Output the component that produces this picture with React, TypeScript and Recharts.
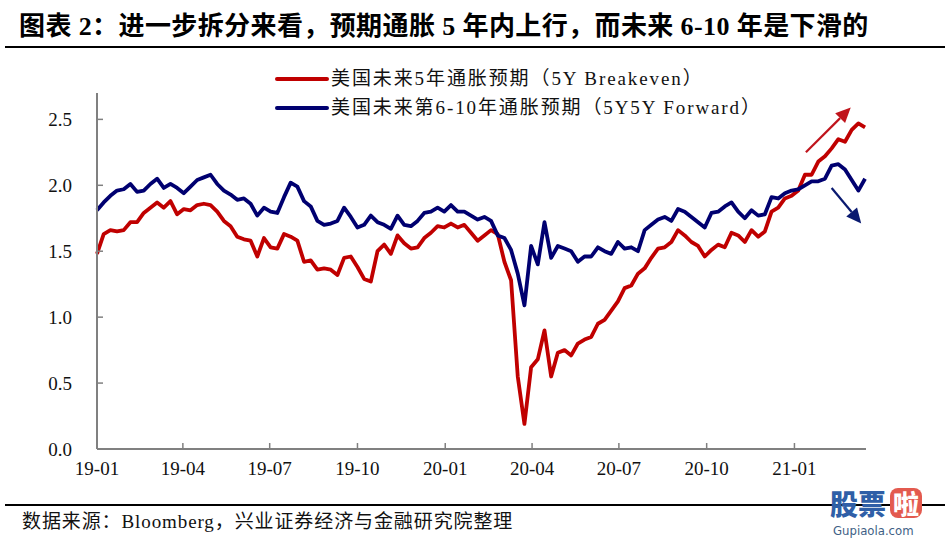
import React from "react";
import { LineChart, Line, XAxis, YAxis, Legend, ReferenceLine } from "recharts";

// weekly readings, first point = first week of Jan 2019
const breakeven5y = [
  1.48, 1.63, 1.66, 1.65, 1.66, 1.72, 1.72, 1.79, 1.83, 1.87,
  1.83, 1.88, 1.78, 1.82, 1.81, 1.85, 1.86, 1.85, 1.80, 1.73,
  1.69, 1.61, 1.59, 1.58, 1.46, 1.60, 1.53, 1.52, 1.63, 1.61,
  1.58, 1.42, 1.43, 1.36, 1.37, 1.36, 1.32, 1.45, 1.46, 1.38,
  1.29, 1.27, 1.50, 1.55, 1.48, 1.62, 1.56, 1.52, 1.53, 1.60,
  1.64, 1.69, 1.68, 1.71, 1.68, 1.70, 1.64, 1.58, 1.62, 1.66,
  1.63, 1.42, 1.28, 0.55, 0.19, 0.62, 0.68, 0.90, 0.55, 0.73,
  0.75, 0.71, 0.80, 0.83, 0.85, 0.95, 0.98, 1.05, 1.12, 1.22,
  1.24, 1.33, 1.37, 1.45, 1.52, 1.53, 1.57, 1.66, 1.62, 1.57,
  1.54, 1.46, 1.51, 1.55, 1.53, 1.64, 1.62, 1.57, 1.66, 1.61,
  1.65, 1.80, 1.83, 1.90, 1.92, 1.96, 2.08, 2.08, 2.18, 2.22,
  2.28, 2.35, 2.33, 2.42, 2.47, 2.44,
];

const forward5y5y = [
  1.81, 1.87, 1.92, 1.96, 1.97, 2.01, 1.95, 1.96, 2.01, 2.05,
  1.98, 2.01, 1.98, 1.94, 1.99, 2.04, 2.06, 2.08, 2.01, 1.96,
  1.93, 1.89, 1.90, 1.86, 1.77, 1.83, 1.80, 1.79, 1.91, 2.02,
  1.99, 1.88, 1.84, 1.73, 1.70, 1.71, 1.73, 1.83, 1.76, 1.68,
  1.70, 1.77, 1.72, 1.70, 1.67, 1.77, 1.70, 1.69, 1.73, 1.79,
  1.80, 1.83, 1.80, 1.85, 1.80, 1.80, 1.77, 1.74, 1.76, 1.73,
  1.62, 1.60, 1.51, 1.33, 1.09, 1.54, 1.40, 1.72, 1.45, 1.54,
  1.52, 1.50, 1.42, 1.46, 1.46, 1.53, 1.50, 1.48, 1.57, 1.52,
  1.53, 1.50, 1.66, 1.70, 1.74, 1.76, 1.73, 1.82, 1.80, 1.76,
  1.72, 1.68, 1.79, 1.80, 1.84, 1.87, 1.80, 1.75, 1.81, 1.77,
  1.78, 1.91, 1.90, 1.94, 1.96, 1.97, 2.00, 2.03, 2.03, 2.05,
  2.15, 2.16, 2.12, 2.04, 1.96, 2.05,
];

// days since 2019-01-01 for each quarter tick
const tickDays = [0, 90, 181, 273, 365, 456, 547, 639, 731];
const tickLabels = ["19-01", "19-04", "19-07", "19-10", "20-01", "20-04", "20-07", "20-10", "21-01"];
const yTicks = [0, 0.5, 1.0, 1.5, 2.0, 2.5];

const seriesNames = ["美国未来5年通胀预期（5Y Breakeven）", "美国未来第6-10年通胀预期（5Y5Y Forward）"];
const RED = "#c00000";
const BLUE = "#000070";

const data = breakeven5y.map((v, i) => ({
  day: i * 7,
  be: v,
  fw: forward5y5y[i],
}));

const FONT = "'Liberation Serif', 'Noto Sans CJK SC', serif";

const arrowShape = (color: string) => (p: any) => {
  const { x1, y1, x2, y2 } = p;
  if ([x1, y1, x2, y2].some((v) => typeof v !== "number" || isNaN(v))) return <g />;
  const a = Math.atan2(y2 - y1, x2 - x1);
  const L = 15;
  const W = 7;
  const bx = x2 - L * Math.cos(a);
  const by = y2 - L * Math.sin(a);
  const px = -Math.sin(a) * W;
  const py = Math.cos(a) * W;
  return (
    <g>
      <line x1={x1} y1={y1} x2={bx} y2={by} stroke={color} strokeWidth={2.2} />
      <polygon points={`${x2},${y2} ${bx + px},${by + py} ${bx - px},${by - py}`} fill={color} />
    </g>
  );
};

const LegendBox = () => (
  <div style={{ fontFamily: FONT, fontSize: 19, letterSpacing: 1.9, color: "#111", lineHeight: "29px" }}>
    {seriesNames.map((n, i) => (
      <div key={n} style={{ display: "flex", alignItems: "center", whiteSpace: "nowrap" }}>
        <span
          style={{
            display: "inline-block",
            width: 54,
            height: 4,
            borderRadius: 2,
            background: i === 0 ? RED : BLUE,
            marginRight: 2,
          }}
        />
        {n}
      </div>
    ))}
  </div>
);

export default function App() {
  return (
    <div style={{ position: "absolute", left: 0, top: 0, width: 950, height: 544, background: "#fff", overflow: "hidden" }}>
      <div
        style={{
          position: "absolute",
          left: 19,
          top: 10,
          fontFamily: FONT,
          fontWeight: "bold",
          fontSize: 26,
          letterSpacing: 0.4,
          lineHeight: "34px",
          color: "#000",
          whiteSpace: "nowrap",
        }}
      >
        图表 2：进一步拆分来看，预期通胀 5 年内上行，而未来 6-10 年是下滑的
      </div>
      <div style={{ position: "absolute", left: 5, top: 46, width: 940, height: 2, background: "#000" }} />

      <div style={{ position: "absolute", left: 0, top: 0 }}>
        <LineChart width={950} height={544} data={data} margin={{ top: 93, right: 84, bottom: 65, left: 37 }}>
          <XAxis
            dataKey="day"
            type="number"
            domain={[0, 806]}
            ticks={tickDays}
            tickFormatter={(d: number) => tickLabels[tickDays.indexOf(d)] ?? ""}
            axisLine={{ stroke: "#808080", strokeWidth: 2 }}
            tickLine={{ stroke: "#808080", strokeWidth: 1.5 }}
            tickSize={-6}
            tickMargin={19}
            height={30}
            tick={{ fill: "#111", fontSize: 19, fontFamily: FONT }}
            interval={0}
          />
          <YAxis
            type="number"
            domain={[0, 2.7]}
            ticks={yTicks}
            tickFormatter={(v: number) => v.toFixed(1)}
            axisLine={{ stroke: "#808080", strokeWidth: 2 }}
            tickLine={{ stroke: "#808080", strokeWidth: 1.5 }}
            tickSize={-6}
            tickMargin={31}
            width={60}
            tick={{ fill: "#111", fontSize: 19, fontFamily: FONT }}
            interval={0}
          />
          <Legend
            layout="vertical"
            align="center"
            verticalAlign="middle"
            content={<LegendBox />}
            wrapperStyle={{ left: 275, top: 64, width: 560 }}
          />
          <Line
            dataKey="be"
            name={seriesNames[0]}
            stroke={RED}
            strokeWidth={3.8}
            dot={false}
            strokeLinejoin="round"
            isAnimationActive={false}
          />
          <Line
            dataKey="fw"
            name={seriesNames[1]}
            stroke={BLUE}
            strokeWidth={3.8}
            dot={false}
            strokeLinejoin="round"
            isAnimationActive={false}
          />
          <ReferenceLine
            segment={[{ x: 743, y: 2.25 }, { x: 790, y: 2.59 }]}
            shape={arrowShape("#c0141c")}
            ifOverflow="visible"
          />
          <ReferenceLine
            segment={[{ x: 770, y: 1.98 }, { x: 801, y: 1.71 }]}
            shape={arrowShape("#0a1a70")}
            ifOverflow="visible"
          />
        </LineChart>
      </div>

      <div style={{ position: "absolute", left: 5, top: 504, width: 940, height: 1.5, background: "#000" }} />
      <div
        style={{
          position: "absolute",
          left: 22,
          top: 509,
          fontFamily: FONT,
          fontSize: 19,
          letterSpacing: 0.9,
          lineHeight: "26px",
          color: "#111",
          whiteSpace: "nowrap",
        }}
      >
        数据来源：Bloomberg，兴业证券经济与金融研究院整理
      </div>

      <div style={{ position: "absolute", left: 830, top: 488, display: "flex", alignItems: "center" }}>
        <span style={{ fontFamily: "'Noto Sans CJK SC'", fontWeight: 900, fontSize: 28, color: "#2f5fa7", lineHeight: "30px" }}>
          股票
        </span>
        <span
          style={{
            marginLeft: 4,
            background: "#e35a4f",
            color: "#fff",
            borderRadius: 8,
            fontFamily: "'Noto Sans CJK SC'",
            fontWeight: 900,
            fontSize: 26,
            lineHeight: "30px",
            padding: "0 3px",
          }}
        >
          啦
        </span>
      </div>
      <div
        style={{
          position: "absolute",
          left: 833,
          top: 523,
          fontFamily: "'DejaVu Sans Condensed', 'DejaVu Sans'",
          fontSize: 13,
          lineHeight: "16px",
          color: "#3f5f86",
          whiteSpace: "nowrap",
        }}
      >
        Gupiaola.com
      </div>
    </div>
  );
}
